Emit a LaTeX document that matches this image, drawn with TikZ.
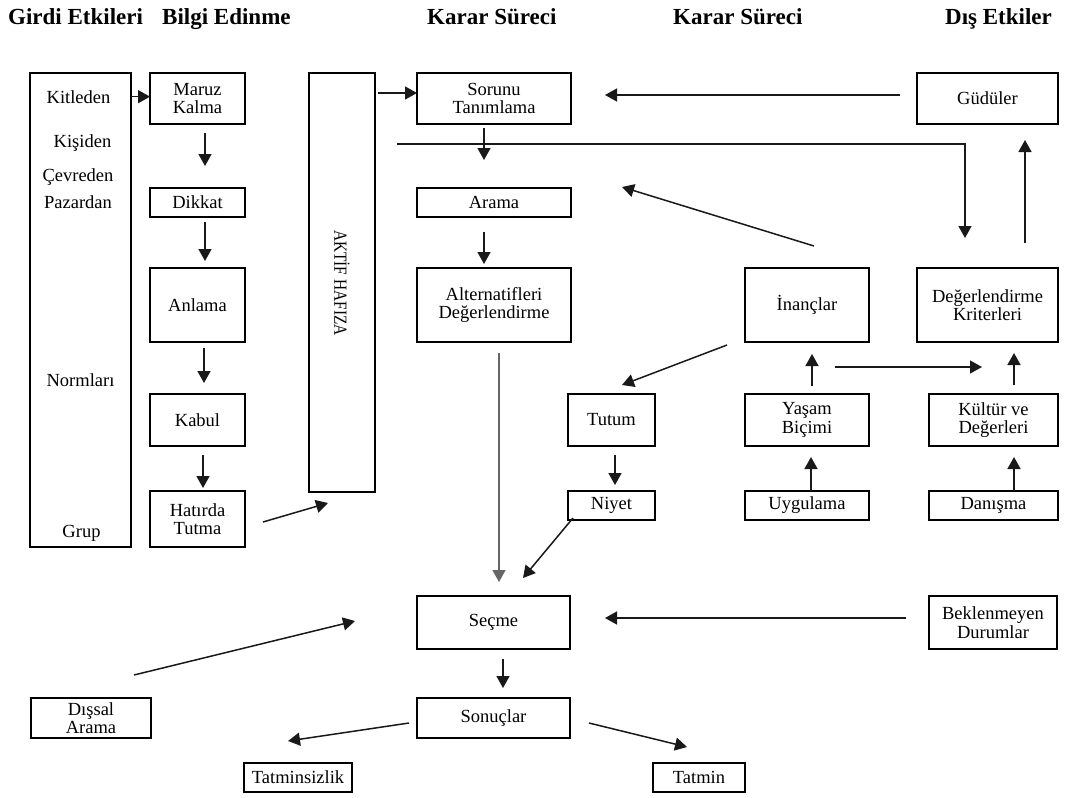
\documentclass[tikz,border=0pt]{standalone}
\usepackage{fontspec}
\usepackage{graphicx}
\setmainfont{Liberation Serif}
\usetikzlibrary{arrows.meta,calc}
\begin{document}
\begin{tikzpicture}[x=1pt,y=-1pt,
  box/.style={draw=black, line width=2.4pt, inner sep=0pt, outer sep=0pt, align=center,
    font=\fontsize{18.5}{18.5}\selectfont},
  wh/.style 2 args={minimum width=#1, minimum height=#2},
  lbl/.style={inner sep=0pt, font=\fontsize{18.5}{18}\selectfont},
  head/.style={inner sep=0pt, anchor=base west, font=\fontsize{23}{23}\selectfont\bfseries},
  arr/.style={draw=black!90, line width=1.5pt, -{Triangle[length=12pt,width=13pt]}},
  plain/.style={draw=black!90, line width=1.5pt}
]
\useasboundingbox (0,0) rectangle (1077,798);

% column headings
\node[head] (h1) at (8,24) {Girdi Etkileri};
\node[head] (h2) at (162,24) {Bilgi Edinme};
\node[head] (h3) at (427,24) {Karar Süreci};
\node[head] (h4) at (673,24) {Karar Süreci};
\node[head] (h5) at (945,24) {Dış Etkiler};

% input influences
\node[box, wh={101}{474}] (girdi) at (80.5,310) {};
\node[lbl, anchor=base] (kitleden) at (78.5,103) {Kitleden};
\node[lbl, anchor=base] (kisiden) at (82.5,147) {Kişiden};
\node[lbl, anchor=base] (cevreden) at (78,181) {Çevreden};
\node[lbl, anchor=base] (pazardan) at (78,208) {Pazardan};
\node[lbl, anchor=base] (normlari) at (80.5,386) {Normları};
\node[lbl, anchor=base] (grup) at (81.5,537) {Grup};

% information acquisition
\node[box, wh={95}{51}] (maruz) at (197.5,98.5) {Maruz\\Kalma};
\node[box, wh={95}{29}] (dikkat) at (197.5,202.5) {Dikkat};
\node[box, wh={95}{74}] (anlama) at (197.5,305) {Anlama};
\node[box, wh={95}{52}] (kabul) at (197.5,420) {Kabul};
\node[box, wh={95}{56}] (hatirda) at (197.5,519) {Hatırda\\Tutma};
\node[box, wh={66}{419}] (aktif) at (342,282.5) {};
\node[lbl, rotate=-90] (aktiftxt) at (342,283) {\scalebox{0.83}[1]{AKTİF HAFIZA}};

% decision process
\node[box, wh={154}{51}] (sorunu) at (494,98.5) {Sorunu\\Tanımlama};
\node[box, wh={154}{29}] (arama) at (494,202.5) {Arama};
\node[box, wh={154}{74}] (alter) at (494,305) {Alternatifleri\\Değerlendirme};
\node[box, wh={87}{52}] (tutum) at (611.5,420) {Tutum};
\node[box, wh={87}{29}] (niyet) at (611.5,505.5) {Niyet};
\node[box, wh={124}{74}] (inanc) at (807,305) {İnançlar};
\node[box, wh={124}{52}] (yasam) at (807,420) {Yaşam\\Biçimi};
\node[box, wh={124}{29}] (uygul) at (807,505.5) {Uygulama};
\node[box, wh={153}{53}] (secme) at (493.5,622.5) {Seçme};
\node[box, wh={153}{40}] (sonuc) at (493.5,718) {Sonuçlar};
\node[box, wh={108}{29}] (tatminsiz) at (298,777.5) {Tatminsizlik};
\node[box, wh={92}{29}] (tatmin) at (699,777.5) {Tatmin};
\node[box, wh={120}{40}] (dissal) at (91,718) {Dışsal\\Arama};

% external influences
\node[box, wh={141}{51}] (gudu) at (987.5,98.5) {Güdüler};
\node[box, wh={141}{74}] (kriter) at (987.5,305) {Değerlendirme\\Kriterleri};
\node[box, wh={129}{52}] (kultur) at (993.5,420) {Kültür ve\\Değerleri};
\node[box, wh={129}{29}] (danis) at (993.5,505.5) {Danışma};
\node[box, wh={128}{53}] (bekle) at (993,622.5) {Beklenmeyen\\Durumlar};

% connectors: information acquisition
\draw[arr] (girdi.east |- kitleden.center) -- (maruz.west |- kitleden.center);
\draw[arr] ($(maruz.south)+(7.5,9)$) -- ($(dikkat.north)+(7.5,-22)$);
\draw[arr] ($(dikkat.south)+(7.5,5)$) -- ($(anlama.north)+(7.5,-7)$);
\draw[arr] ($(anlama.south)+(6.5,6)$) -- ($(kabul.north)+(6.5,-11)$);
\draw[arr] ($(kabul.south)+(5.5,9)$) -- ($(hatirda.north)+(5.5,-3)$);
\draw[arr] ($(hatirda.east)+(18,3)$) -- ($(aktif.south)+(-14,11)$);
\draw[arr] ($(aktif.east |- sorunu.west)+(3,-5.5)$) -- ($(sorunu.west)+(0,-5.5)$);

% connectors: decision process
\draw[arr] ($(sorunu.south)+(-10,4)$) -- ($(arama.north)+(-10,-28)$);
\draw[arr] ($(arama.south)+(-10,15)$) -- ($(alter.north)+(-10,-4)$);
\draw[arr] ($(aktif.north east)+(22,71)$) -| ($(kriter.north)+(-22.5,-30)$);
\draw[arr] ($(gudu.west)+(-17,-3.5)$) -- ($(sorunu.east)+(34,-3.5)$);
\draw[arr] ($(kriter.north)+(37.5,-25)$) -- ($(gudu.south)+(37.5,16)$);
\draw[arr] ($(inanc.north)+(7,-22)$) -- ($(arama.east)+(51,-15.5)$);
\draw[arr] ($(inanc.south west)+(-18,3)$) -- ($(tutum.north)+(10.5,-9)$);
\draw[arr] ($(tutum.south)+(3.5,9)$) -- ($(niyet.north)+(3.5,-6)$);
\draw[arr] ($(yasam.north)+(5,-8)$) -- ($(inanc.south)+(5,12)$);
\draw[arr] ($(inanc.south)+(28,25)$) -- ($(kriter.south)+(-5.5,25)$);
\draw[arr] ($(kultur.north)+(20.5,-9)$) -- ($(kriter.south)+(26.5,11)$);
\draw[arr] ($(uygul.north)+(4,0)$) -- ($(yasam.south)+(4,11)$);
\draw[arr] ($(danis.north)+(20.5,0)$) -- ($(kultur.south)+(20.5,11)$);
\draw[arr, draw=black!60] ($(alter.south)+(5,11)$) -- ($(secme.north)+(5.5,-14)$);
\draw[arr] ($(niyet.south west)+(5,-2)$) -- ($(secme.north)+(29.5,-18)$);
\draw[arr] ($(bekle.west)+(-23,-4.5)$) -- ($(secme.east)+(35,-4.5)$);
\draw[arr] ($(secme.south)+(9.5,10)$) -- ($(sonuc.north)+(9.5,-10)$);
\draw[arr] ($(dissal.north east)+(-17,-23)$) -- ($(secme.west)+(-62,-1.5)$);
\draw[arr] ($(sonuc.west)+(-8,5)$) -- ($(tatminsiz.north)+(-10,-22)$);
\draw[arr] ($(sonuc.east)+(19,5)$) -- ($(tatmin.north)+(-12,-16)$);
\end{tikzpicture}
\end{document}
